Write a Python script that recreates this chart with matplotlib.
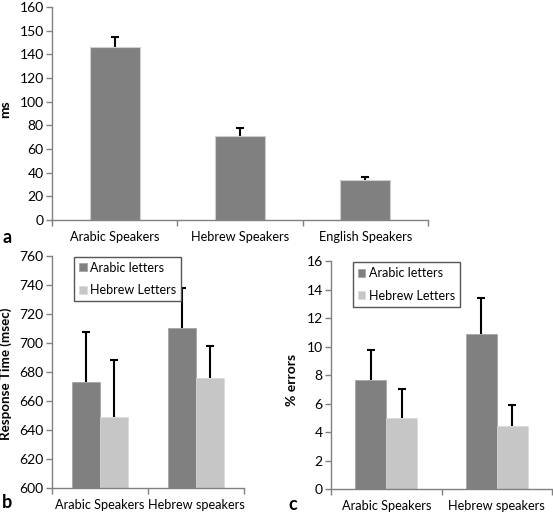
import matplotlib
matplotlib.use('Agg')
import matplotlib.pyplot as plt
import numpy as np

plt.rcParams['font.family'] = ['Lato', 'DejaVu Sans']

# panel a
groups_a = ['Arabic Speakers', 'Hebrew Speakers', 'English Speakers']
ms_a = [145.9, 70.7, 33.5]
err_a = [8.5, 7.4, 3.2]
yticks_a = [0, 20, 40, 60, 80, 100, 120, 140, 160, 180]
ylabels_a = ['0', '20', '40', '60', '80', '100', '120', '140', '150', '160']

# panels b and c
groups_bc = ['Arabic Speakers', 'Hebrew speakers']
series = ['Arabic letters', 'Hebrew Letters']
rt_arabic = [673, 710]
rt_hebrew = [649, 676]
rt_arabic_err = [34.4, 28]
rt_hebrew_err = [39.5, 21.7]
pe_arabic = [7.63, 10.92]
pe_hebrew = [5.02, 4.42]
pe_arabic_err = [2.16, 2.49]
pe_hebrew_err = [2.01, 1.47]

dark = '#808080'
light = '#c6c6c6'
spine = '#808080'
tick_fs = 10
cat_fs = 9.2


def style_axes(ax, n):
    for s in ['top', 'right']:
        ax.spines[s].set_visible(False)
    for s in ['left', 'bottom']:
        ax.spines[s].set_color(spine)
        ax.spines[s].set_linewidth(1.0)
    ax.set_xlim(-0.5, n - 0.5)
    ax.set_xticks(range(n))
    ax.set_xticks(np.arange(n + 1) - 0.5, minor=True)
    ax.tick_params(axis='x', which='major', length=0, labelsize=cat_fs, pad=8)
    ax.tick_params(axis='x', which='minor', length=4, color=spine, width=1)
    ax.tick_params(axis='y', length=4, color=spine, width=1, labelsize=tick_fs, pad=2)


def err_style():
    return dict(ecolor='black', elinewidth=1.5, capsize=3, capthick=1.5, zorder=0.5)


def drop_lower_cap(container):
    # only the upper whisker is shown, like in the original
    caps = container.errorbar.lines[1]
    if len(caps) == 2:
        lo = min(caps, key=lambda c: np.mean(c.get_ydata()))
        lo.set_visible(False)


fig = plt.figure(figsize=(5.53, 5.16), dpi=100)

# a
ax = fig.add_axes([0.094, 0.5736, 0.680, 0.4128])
x = np.arange(len(groups_a))
b = ax.bar(x, ms_a, width=0.4, color=dark, edgecolor='#cfcfcf', linewidth=0.8,
           yerr=[np.zeros(3), err_a], error_kw=err_style())
drop_lower_cap(b)
style_axes(ax, 3)
ax.set_xticklabels(groups_a)
ax.set_ylim(0, 180)
ax.set_yticks(yticks_a)
ax.set_yticklabels(ylabels_a)
ax.set_ylabel('ms', fontweight='bold', fontsize=10)
ax.yaxis.set_label_coords(-0.108, 0.52)
fig.text(0.004, 0.529, 'a', fontweight='bold', fontsize=13)


def grouped(ax, a_vals, h_vals, a_err, h_err, w):
    x = np.arange(2)
    b1 = ax.bar(x - w / 2, a_vals, width=w, color=dark, label=series[0],
                edgecolor='#a0a0a0', linewidth=0.5,
                yerr=[np.zeros(2), a_err], error_kw=err_style())
    b2 = ax.bar(x + w / 2, h_vals, width=w, color=light, label=series[1],
                edgecolor='#d8d8d8', linewidth=0.5,
                yerr=[np.zeros(2), h_err], error_kw=err_style())
    drop_lower_cap(b1)
    drop_lower_cap(b2)
    style_axes(ax, 2)
    ax.set_xticklabels(groups_bc)


def legend(ax, xpos):
    ax.legend(loc='upper left', bbox_to_anchor=(xpos, 0.995), fontsize=9.0,
              frameon=True, fancybox=False, edgecolor='#555555', framealpha=1,
              handlelength=0.6, handleheight=0.6, handletextpad=0.3,
              borderpad=0.4, borderaxespad=0, labelspacing=0.85)


# b
ax = fig.add_axes([0.094, 0.0537, 0.347, 0.4508])
grouped(ax, rt_arabic, rt_hebrew, rt_arabic_err, rt_hebrew_err, 0.29)
ax.set_ylim(600, 760)
ax.set_yticks(range(600, 761, 20))
ax.set_ylabel('Response Time (msec)', fontweight='bold', fontsize=9.6)
ax.yaxis.set_label_coords(-0.208, 0.49)
legend(ax, 0.115)
fig.text(0.004, 0.0155, 'b', fontweight='bold', fontsize=13)

# c
ax = fig.add_axes([0.5986, 0.0517, 0.3996, 0.4424])
grouped(ax, pe_arabic, pe_hebrew, pe_arabic_err, pe_hebrew_err, 0.28)
ax.set_ylim(0, 16)
ax.set_yticks(range(0, 17, 2))
ax.set_ylabel('% errors', fontweight='bold', fontsize=10)
ax.yaxis.set_label_coords(-0.149, 0.48)
legend(ax, 0.098)
fig.text(0.521, 0.012, 'c', fontweight='bold', fontsize=13)

fig.savefig('out.png', dpi=100)
